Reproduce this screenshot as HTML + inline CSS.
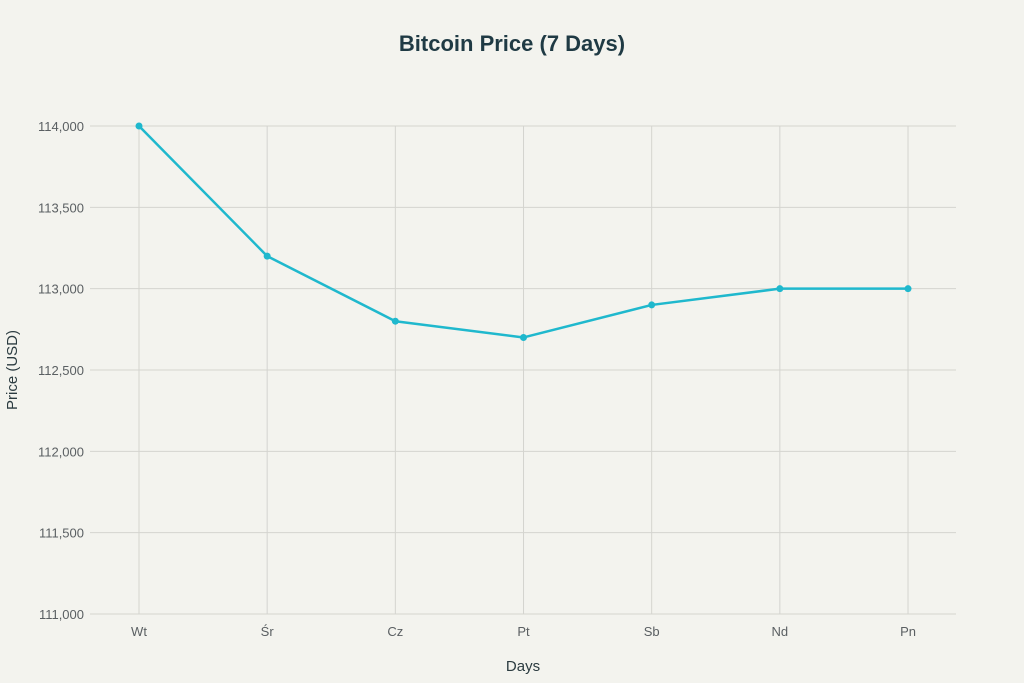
<!DOCTYPE html>
<html><head><meta charset="utf-8"><style>
html,body{margin:0;padding:0;background:#f3f3ee;}
svg{display:block;font-family:"Liberation Sans","Noto Sans CJK SC",sans-serif;}
</style></head><body>
<svg id="chart" width="1024" height="683">
<rect width="1024" height="683" fill="#f3f3ee"/>
<text x="512" y="51" text-anchor="middle" font-size="22" font-weight="bold" fill="#1f3a44">Bitcoin Price (7 Days)</text>
<g id="grid"></g>
<g id="yticks"></g>
<g id="xticks"></g>
<text transform="translate(17,370) rotate(-90)" text-anchor="middle" font-size="15" fill="#2b3b40">Price (USD)</text>
<text x="523" y="671" text-anchor="middle" font-size="15" fill="#2b3b40">Days</text>
<g id="series"></g>
</svg>
<script>
const categories=["Wt","Śr","Cz","Pt","Sb","Nd","Pn"];
const prices=[114000,113200,112800,112700,112900,113000,113000];
const yTicks=[111000,111500,112000,112500,113000,113500,114000];
const yTickLabels=["111,000","111,500","112,000","112,500","113,000","113,500","114,000"];
const NS="http://www.w3.org/2000/svg";
const pLeft=90,pRight=956,pTop=126,pBottom=614,yMin=111000,yMax=114000;
const x0=139,step=128.17;
function xs(i){return x0+i*step;}
function ys(v){return pBottom-(v-yMin)/(yMax-yMin)*(pBottom-pTop);}
function mk(tag,attrs,parent){const e=document.createElementNS(NS,tag);for(const k in attrs)e.setAttribute(k,attrs[k]);parent.appendChild(e);return e;}
const grid=document.getElementById('grid'),yg=document.getElementById('yticks'),xg=document.getElementById('xticks'),sg=document.getElementById('series');
yTicks.forEach((v,i)=>{
 const l=mk('line',{x1:pLeft,x2:pRight,y1:ys(v),y2:ys(v),stroke:'#d4d4cf','stroke-width':1},grid);
 
 
 const t=mk('text',{x:84,y:ys(v)+5,'text-anchor':'end','font-size':13,fill:'#5a5f62'},yg);
 t.textContent=yTickLabels[i];
 
 
});
categories.forEach((c,i)=>{
 const l=mk('line',{x1:xs(i),x2:xs(i),y1:pTop,y2:pBottom,stroke:'#d4d4cf','stroke-width':1},grid);
 
 
 const t=mk('text',{x:xs(i),y:636,'text-anchor':'middle','font-size':13,fill:'#5a5f62'},xg);
 t.textContent=c;
 
 
});
const pts=prices.map((v,i)=>xs(i)+','+ys(v)).join(' ');
const pl=mk('polyline',{points:pts,fill:'none',stroke:'#1fb8cd','stroke-width':2.5,'stroke-linejoin':'round'},sg);


prices.forEach((v,i)=>{
 const c=mk('circle',{cx:xs(i),cy:ys(v),r:3.5,fill:'#1fb8cd'},sg);
 
 
});
</script>
</body></html>
